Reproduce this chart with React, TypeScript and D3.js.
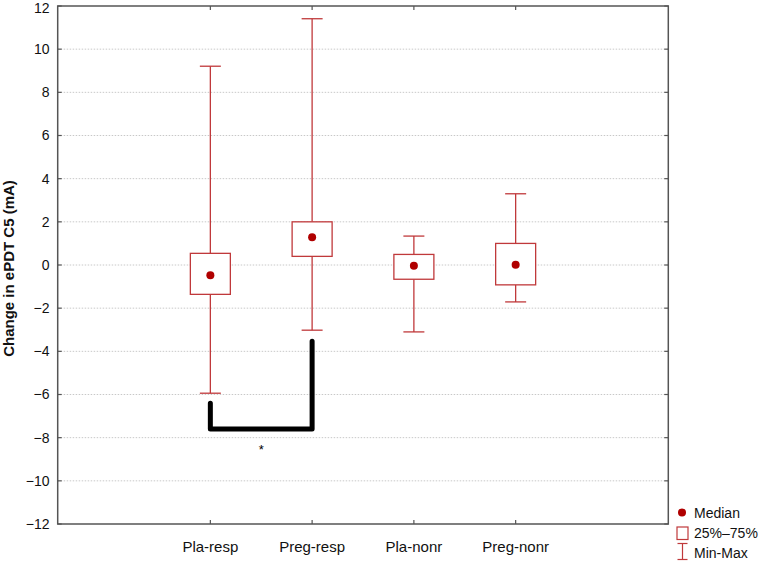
import React from "react";
import * as d3 from "d3";

const categories = ["Pla-resp", "Preg-resp", "Pla-nonr", "Preg-nonr"];
const minValues = [-5.94, -3.02, -3.1, -1.71];
const q1Values = [-1.36, 0.4, -0.66, -0.92];
const medianValues = [-0.48, 1.28, -0.03, 0.01];
const q3Values = [0.54, 2.0, 0.49, 1.0];
const maxValues = [9.21, 11.41, 1.34, 3.3];
const yTicks = [12, 10, 8, 6, 4, 2, 0, -2, -4, -6, -8, -10, -12];
const bracket = { left: "Pla-resp", right: "Preg-resp", leftTop: -6.4, rightTop: -3.53, bottom: -7.6, star: -8.4 };
const legendItems = ["Median", "25%\u201375%", "Min-Max"];

const RED = "#c0393b";
const DOT = "#b00000";
const AXIS = "#555";
const FONT = "'Liberation Sans', Arial, sans-serif";

export default function App() {
  const W = 763, H = 561;
  const left = 57.7, right = 668.3, top = 6, bottom = 524;
  const y = d3.scaleLinear().domain([-12, 12]).range([bottom, top]);
  const xs = d3.scaleLinear().domain([0, 6]).range([left, right]);
  const x = (c: string) => xs(categories.indexOf(c) + 1.5);
  const boxW = 40, capW = 21;

  return (
    <svg width={W} height={H} style={{ position: "absolute", left: 0, top: 0, fontFamily: FONT }}>
      <rect width={W} height={H} fill="#fff" />
      {yTicks.filter(t => t !== 12 && t !== -12).map(t => (
        <line key={"g" + t} x1={left} x2={right} y1={y(t)} y2={y(t)} stroke="#c8c8c8" strokeWidth={1} strokeDasharray="1.5,1.5" />
      ))}
      <rect x={left} y={top} width={right - left} height={bottom - top} fill="none" stroke={AXIS} strokeWidth={1.5} />
      {yTicks.map(t => (
        <g key={"t" + t}>
          <line x1={left} x2={left + 4} y1={y(t)} y2={y(t)} stroke={AXIS} strokeWidth={1.2} />
          <line x1={right - 4} x2={right} y1={y(t)} y2={y(t)} stroke={AXIS} strokeWidth={1.2} />
          <text x={49.5} y={Math.max(y(t), 7.8)} dy="0.35em" textAnchor="end" fontSize={14} fill="#111">
            {t < 0 ? "\u2212" + Math.abs(t) : String(t)}
          </text>
        </g>
      ))}
      {categories.map(c => (
        <g key={"x" + c}>
          <line x1={x(c)} x2={x(c)} y1={top} y2={top + 4} stroke={AXIS} strokeWidth={1.2} />
          <line x1={x(c)} x2={x(c)} y1={bottom - 4} y2={bottom} stroke={AXIS} strokeWidth={1.2} />
          <text x={x(c)} y={546.5} dy="0.35em" textAnchor="middle" fontSize={15} fill="#111">{c}</text>
        </g>
      ))}
      <text transform={`translate(9,268.5) rotate(-90)`} textAnchor="middle" dy="0.35em" fontSize={15} fontWeight="bold" fill="#111">
        Change in ePDT C5 (mA)
      </text>
      {categories.map((c, i) => {
        const cx = x(c);
        return (
          <g key={"b" + c}>
            <line x1={cx} x2={cx} y1={y(maxValues[i])} y2={y(q3Values[i])} stroke={RED} strokeWidth={1.3} />
            <line x1={cx} x2={cx} y1={y(q1Values[i])} y2={y(minValues[i])} stroke={RED} strokeWidth={1.3} />
            <line x1={cx - capW / 2} x2={cx + capW / 2} y1={y(maxValues[i])} y2={y(maxValues[i])} stroke={RED} strokeWidth={1.3} />
            <line x1={cx - capW / 2} x2={cx + capW / 2} y1={y(minValues[i])} y2={y(minValues[i])} stroke={RED} strokeWidth={1.3} />
            <rect x={cx - boxW / 2} y={y(q3Values[i])} width={boxW} height={y(q1Values[i]) - y(q3Values[i])} fill="#fff" stroke={RED} strokeWidth={1.3} />
            <circle cx={cx} cy={y(medianValues[i])} r={4} fill={DOT} />
          </g>
        );
      })}
      <path
        d={`M${x(bracket.left)},${y(bracket.leftTop)} L${x(bracket.left)},${y(bracket.bottom)} L${x(bracket.right)},${y(bracket.bottom)} L${x(bracket.right)},${y(bracket.rightTop)}`}
        fill="none" stroke="#000" strokeWidth={5} strokeLinecap="round" strokeLinejoin="round"
      />
      <text x={(x(bracket.left) + x(bracket.right)) / 2} y={y(bracket.star)} dy="0.6em" textAnchor="middle" fontSize={13} fill="#000">*</text>
      <circle cx={682} cy={512.5} r={4} fill={DOT} />
      <rect x={677} y={527} width={11} height={12.5} fill="#fff" stroke={RED} strokeWidth={1.2} />
      <line x1={682.5} x2={682.5} y1={543.5} y2={559.5} stroke={RED} strokeWidth={1.2} />
      <line x1={677.5} x2={687.5} y1={543.5} y2={543.5} stroke={RED} strokeWidth={1.2} />
      <line x1={677.5} x2={687.5} y1={559.5} y2={559.5} stroke={RED} strokeWidth={1.2} />
      {legendItems.map((t, i) => (
        <text key={t} x={694} y={513 + i * 20} dy="0.35em" fontSize={14} fill="#111">{t}</text>
      ))}
    </svg>
  );
}
